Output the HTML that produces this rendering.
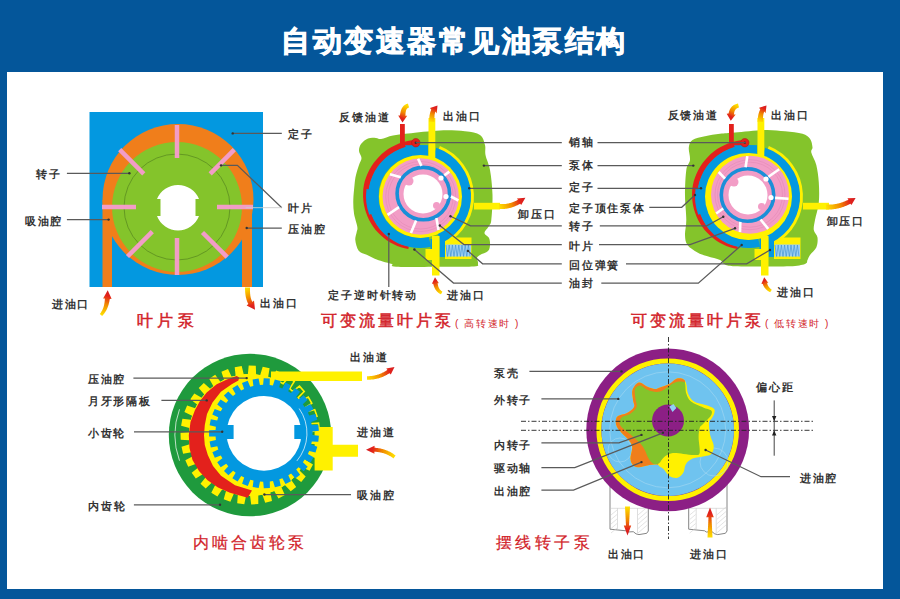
<!DOCTYPE html>
<html><head><meta charset="utf-8">
<style>
html,body{margin:0;padding:0;width:900px;height:599px;overflow:hidden;background:#04569a;}
svg{display:block;}
text{font-family:"Liberation Sans",sans-serif;}
.lb{font-size:11px;fill:#333;letter-spacing:1.9px;font-weight:bold;}
.cap{font-size:16px;fill:#d2232a;letter-spacing:3px;stroke:#d2232a;stroke-width:0.5;}
.caps{font-size:10px;fill:#d2232a;letter-spacing:1.6px;}
.cap2{font-size:16px;fill:#d2232a;letter-spacing:2.8px;stroke:#d2232a;stroke-width:0.25;}
.ln{stroke:#5a5a5a;stroke-width:1.25;fill:none;}
.dot{fill:#333;}
</style></head><body>
<svg width="900" height="599" viewBox="0 0 900 599">
<defs>
<linearGradient id="gU" x1="0" y1="1" x2="0" y2="0"><stop offset="0" stop-color="#ffe600"/><stop offset="0.5" stop-color="#f39200"/><stop offset="1" stop-color="#e3191b"/></linearGradient>
<linearGradient id="gD" x1="0" y1="0" x2="0" y2="1"><stop offset="0" stop-color="#ffe600"/><stop offset="0.5" stop-color="#f39200"/><stop offset="1" stop-color="#e3191b"/></linearGradient>
<linearGradient id="gR" x1="0" y1="0" x2="1" y2="0"><stop offset="0" stop-color="#ffe600"/><stop offset="0.5" stop-color="#f39200"/><stop offset="1" stop-color="#e3191b"/></linearGradient>
<linearGradient id="gL" x1="1" y1="0" x2="0" y2="0"><stop offset="0" stop-color="#ffe600"/><stop offset="0.5" stop-color="#f39200"/><stop offset="1" stop-color="#e3191b"/></linearGradient>
</defs>
<rect x="0" y="0" width="900" height="599" fill="#04569a"/>
<rect x="7" y="72" width="876" height="517" fill="#ffffff"/>
<text x="454.5" y="51" text-anchor="middle" style="font-size:29px;font-weight:bold;fill:#fff;letter-spacing:2.5px;stroke:#fff;stroke-width:0.9">自动变速器常见油泵结构</text>
<rect x="89.5" y="112" width="173.5" height="175" fill="#0398e0"/>
<circle cx="178" cy="199.5" r="75.5" fill="#f07e1b"/>
<rect x="102.5" y="200" width="9.5" height="87" fill="#f07e1b"/>
<rect x="242" y="200" width="10" height="87" fill="#f07e1b"/>
<circle cx="177" cy="207" r="65" fill="#84c42b"/>
<circle cx="177" cy="207" r="53" fill="none" stroke="#4d7a1c" stroke-width="0.6"/>
<path d="M178,185 A22.5,22.5 0 0 1 199,199 L195.5,199 L195.5,216 L199,216 A22.5,22.5 0 0 1 157,216 L160.5,216 L160.5,199 L157,199 A22.5,22.5 0 0 1 178,185 Z" fill="#fff"/>
<g stroke="#f29dc6" stroke-width="4.5"><line x1="177.0" y1="158.0" x2="177.0" y2="125.0"/><line x1="210.2" y1="173.8" x2="234.3" y2="149.7"/><line x1="217.0" y1="207.0" x2="253.0" y2="207.0"/><line x1="202.5" y1="232.5" x2="227.2" y2="257.2"/><line x1="177.0" y1="238.0" x2="177.0" y2="275.0"/><line x1="152.3" y1="231.7" x2="127.5" y2="256.5"/><line x1="136.0" y1="207.0" x2="102.0" y2="207.0"/><line x1="143.8" y1="173.8" x2="119.7" y2="149.7"/></g>
<path class="ln" d="M232.7,133.4 H281.8"/>
<circle class="dot" cx="232.7" cy="133.4" r="1.2"/>
<path class="ln" d="M221,165.4 H237.4 L281.8,207.7"/>
<circle class="dot" cx="221" cy="165.4" r="1.2"/>
<path d="M245.6,207.7 H281.8" stroke="#ccc" stroke-width="0.9"/>
<path class="ln" d="M246.7,228 H281.8"/>
<circle class="dot" cx="246.7" cy="228" r="1.2"/>
<path class="ln" d="M66.9,173.3 H129.4"/>
<circle class="dot" cx="129.4" cy="173.3" r="1.2"/>
<path class="ln" d="M66.9,219.6 H108.6"/>
<circle class="dot" cx="108.6" cy="219.6" r="1.2"/>
<text class="lb" x="287.8" y="137.9">定子</text>
<text class="lb" x="287.8" y="212.1">叶片</text>
<text class="lb" x="287.8" y="232.7">压油腔</text>
<text class="lb" x="36.0" y="177.7">转子</text>
<text class="lb" x="24.7" y="224.6">吸油腔</text>
<text class="lb" x="51.7" y="307.5">进油口</text>
<text class="lb" x="259.8" y="306.8">出油口</text>
<path d="M361.0,144.0 C362.5,141.9 365.5,139.5 368.0,138.5 C370.5,137.5 373.8,137.9 376.0,138.0 C378.2,138.1 378.2,139.4 381.0,139.0 C383.8,138.6 388.5,136.4 393.0,135.5 C397.5,134.6 400.2,134.3 408.0,133.5 C415.8,132.7 430.5,130.9 440.0,130.5 C449.5,130.1 458.3,130.6 465.0,131.3 C471.7,132.1 476.7,132.7 480.0,135.0 C483.3,137.3 484.1,141.7 485.0,145.0 C485.9,148.3 484.7,150.8 485.5,155.0 C486.3,159.2 488.8,163.3 490.0,170.0 C491.2,176.7 492.3,186.7 492.5,195.0 C492.7,203.3 491.9,214.8 491.3,220.0 C490.7,225.2 490.1,223.8 489.0,226.0 C487.9,228.2 484.5,231.0 484.5,233.0 C484.5,235.0 488.1,236.0 489.0,238.0 C489.9,240.0 490.2,242.8 490.0,245.0 C489.8,247.2 489.7,249.3 488.0,251.0 C486.3,252.7 481.8,253.8 480.0,255.0 C478.2,256.2 477.3,256.6 477.0,258.0 C476.7,259.4 478.5,262.1 478.0,263.5 C477.5,264.9 480.3,266.0 474.0,266.5 C467.7,267.0 453.0,266.6 440.0,266.7 C427.0,266.8 404.0,267.2 396.0,266.8 C388.0,266.4 394.2,264.9 392.0,264.0 C389.8,263.1 385.6,262.3 382.7,261.4 C379.8,260.5 377.4,259.8 374.7,258.7 C372.0,257.6 369.4,256.0 366.7,254.7 C364.0,253.4 360.6,253.1 358.7,250.7 C356.8,248.2 355.6,243.1 355.3,240.0 C355.0,236.9 356.4,234.2 356.7,232.0 C357.0,229.8 357.8,229.8 357.3,226.7 C356.9,223.6 354.7,217.8 354.0,213.4 C353.3,209.0 353.2,204.7 353.3,200.0 C353.4,195.3 354.1,189.2 354.5,185.0 C354.9,180.8 355.2,178.3 356.0,175.0 C356.8,171.7 358.1,167.8 359.0,165.0 C359.9,162.2 361.5,160.3 361.5,158.0 C361.5,155.7 359.1,153.3 359.0,151.0 C358.9,148.7 359.5,146.1 361.0,144.0 Z" fill="#84c42b"/>
<path d="M439.9,146.0 A54.5,54.5 0 0 1 445.1,244.6 L443.4,241.5 A51,51 0 0 0 438.6,149.2 Z" fill="#fff100"/>
<path d="M414.5,139.9 L410.5,140.4 L406.6,141.2 L402.7,142.2 L398.9,143.6 L395.2,145.2 L391.6,147.0 L388.1,149.1 L384.8,151.5 L381.7,154.1 L378.8,156.9 L376.1,159.9 L373.6,163.0 L371.3,166.4 L369.3,169.9 L367.6,173.5 L366.1,177.3 L364.8,181.1 L363.9,185.0 L363.3,189.0 L363.1,193.0 L363.1,197.1 L363.4,201.1 L364.0,205.0 L364.9,208.9 L366.1,212.7 L367.5,216.4 L369.1,220.0 L371.1,223.5 L373.2,226.8 L375.6,229.9 L378.2,232.8 L381.0,235.6 L383.9,238.1 L387.1,240.4 L390.3,242.5 L393.7,244.3 L397.3,245.9 L400.9,247.3 L404.6,248.3 L408.3,249.1 L408.9,246.4 L405.4,245.5 L401.9,244.4 L398.6,243.0 L395.3,241.4 L392.2,239.6 L389.2,237.5 L386.4,235.3 L383.7,232.8 L381.2,230.2 L378.9,227.4 L376.8,224.4 L374.9,221.3 L373.3,218.1 L371.9,214.7 L370.7,211.3 L369.8,207.8 L369.1,204.2 L368.7,200.6 L368.5,197.0 L368.6,193.4 L368.9,189.8 L369.6,186.2 L370.4,182.7 L371.5,179.2 L372.9,175.9 L374.4,172.6 L376.3,169.5 L378.3,166.5 L380.5,163.6 L383.0,160.9 L385.6,158.4 L388.4,156.1 L391.3,154.0 L394.4,152.1 L397.6,150.4 L401.0,149.0 L404.4,147.8 L407.9,146.8 L411.5,146.1 L415.1,145.7 Z" fill="#e3211c"/>
<rect x="400" y="124" width="4.8" height="22" fill="#e3211c"/>
<path d="M427.6,145.6 A51.5,51.5 0 1 0 431.1,246.7 L428.7,236.4 A41.0,41.0 0 1 1 425.9,156.0 Z" fill="#0398e0"/>
<path d="M366.5,189.1 A53.5,53.5 0 0 0 369.2,214.8 L381.0,210.5 A41.0,41.0 0 0 1 378.9,190.8 Z" fill="#0398e0"/>
<path d="M405,145.3 L428,145.3 L428,157 L410,157 Z" fill="#0398e0"/>
<path d="M436.3,147.8 A51.5,51.5 0 0 1 442.1,242.8 L437.5,233.4 A41.0,41.0 0 0 0 432.8,157.7 Z" fill="#0398e0"/>
<path d="M430.5,239 H436 V249 H430.5 Z" fill="#0398e0"/>
<path d="M439.5,237 L447,231 L449,236 L445,239 L445,257 L439.5,257 Z" fill="#0398e0"/>
<circle cx="420.5" cy="196.5" r="41.5" fill="#fff100"/>
<rect x="428.5" y="118" width="6.8" height="40" fill="#fff100"/>
<rect x="474" y="202.8" width="26" height="6.7" fill="#fff100"/>
<path d="M432,236 H439.5 V275.5 H432 V260 H425.5 V249 H432 Z" fill="#fff100"/>
<path d="M445,244 L451,237.5 H471.5 V259 H445 Z" fill="#fff100"/>
<rect x="446" y="244.5" width="25" height="12" fill="#9ed0f2"/>
<path d="M446.0,245 L447.6,256.5 L449.2,245 L450.8,256.5 L452.4,245 L454.0,256.5 L455.6,245 L457.2,256.5 L458.8,245 L460.4,256.5 L462.0,245 L463.6,256.5 L465.2,245 L466.8,256.5 L468.4,245 L470.0,256.5" stroke="#3a8fd0" stroke-width="0.6" fill="none"/>
<circle cx="420.7" cy="196.5" r="38.2" fill="#f29dc6"/>
<circle cx="420.7" cy="196.5" r="35" fill="none" stroke="#e58cb8" stroke-width="0.7"/>
<circle cx="420.7" cy="196.5" r="32.5" fill="none" stroke="#e58cb8" stroke-width="0.7"/>
<circle cx="423.3" cy="193.6" r="26.2" fill="none" stroke="#1a8fd8" stroke-width="3.6"/>
<circle cx="423" cy="194" r="19.5" fill="#fff"/>
<circle cx="441" cy="178" r="2.6" fill="#fff"/><circle cx="446" cy="196.5" r="2.6" fill="#fff"/>
<circle cx="409" cy="181" r="4.5" fill="#f29dc6"/><circle cx="436.5" cy="205.5" r="3.5" fill="#f29dc6"/>
<g stroke="#fff" stroke-width="2.6"><line x1="421.4" y1="165.9" x2="418.1" y2="158.7"/><line x1="444.3" y1="175.4" x2="449.3" y2="171.6"/><line x1="450.9" y1="196.5" x2="458.4" y2="200.5"/><line x1="436.4" y1="218.1" x2="438.5" y2="230.0"/><line x1="416.1" y1="220.5" x2="410.9" y2="233.1"/><line x1="399.0" y1="207.1" x2="387.6" y2="214.9"/><line x1="400.8" y1="177.3" x2="390.0" y2="174.2"/></g>
<circle cx="415.8" cy="142.7" r="4.2" fill="#e3211c" stroke="#b01818" stroke-width="0.6"/><circle cx="415.8" cy="142.7" r="1.2" fill="#333"/>
<path d="M692.5,140.0 C695.2,138.1 700.4,137.3 705.0,136.3 C709.6,135.3 715.0,134.4 720.0,133.8 C725.0,133.2 727.5,133.1 735.0,132.5 C742.5,131.9 756.7,130.2 765.0,130.0 C773.3,129.8 778.8,130.7 785.0,131.3 C791.2,131.9 798.3,132.6 802.5,133.8 C806.7,135.1 808.3,136.5 810.0,138.8 C811.7,141.1 812.3,145.2 812.5,147.5 C812.7,149.8 810.7,149.6 811.3,152.5 C811.9,155.4 815.0,160.0 816.3,165.0 C817.5,170.0 818.4,176.2 818.8,182.5 C819.2,188.8 819.4,196.2 818.8,202.5 C818.2,208.8 815.8,215.4 815.0,220.0 C814.2,224.6 813.4,227.1 813.8,230.0 C814.2,232.9 817.1,234.6 817.5,237.5 C817.9,240.4 817.5,244.6 816.3,247.5 C815.0,250.4 811.5,252.9 810.0,255.0 C808.5,257.1 808.3,258.5 807.5,260.0 C806.7,261.5 807.9,262.9 805.0,264.0 C802.1,265.1 797.5,265.9 790.0,266.3 C782.5,266.7 769.2,266.5 760.0,266.5 C750.8,266.5 740.8,266.6 735.0,266.3 C729.2,266.0 727.5,265.6 725.0,264.5 C722.5,263.4 722.9,261.4 720.0,260.0 C717.1,258.6 711.2,257.6 707.5,256.3 C703.8,255.1 700.8,254.4 697.5,252.5 C694.2,250.6 689.6,247.9 687.5,245.0 C685.4,242.1 685.2,239.2 685.0,235.0 C684.8,230.8 686.3,226.7 686.3,220.0 C686.3,213.3 685.0,203.3 685.0,195.0 C685.0,186.7 685.5,175.8 686.3,170.0 C687.1,164.2 689.6,163.8 690.0,160.0 C690.4,156.2 688.4,150.8 688.8,147.5 C689.2,144.2 689.8,141.9 692.5,140.0 Z" fill="#84c42b"/>
<path d="M768.9,146.0 A54.5,54.5 0 0 1 774.1,244.6 L772.4,241.5 A51,51 0 0 0 767.6,149.2 Z" fill="#fff100"/>
<path d="M743.5,139.9 L739.5,140.4 L735.6,141.2 L731.7,142.2 L727.9,143.6 L724.2,145.2 L720.6,147.0 L717.1,149.1 L713.8,151.5 L710.7,154.1 L707.8,156.9 L705.1,159.9 L702.6,163.0 L700.3,166.4 L698.3,169.9 L696.6,173.5 L695.1,177.3 L693.8,181.1 L692.9,185.0 L692.3,189.0 L692.1,193.0 L692.1,197.1 L692.4,201.1 L693.0,205.0 L693.9,208.9 L695.1,212.7 L696.5,216.4 L698.1,220.0 L700.1,223.5 L702.2,226.8 L704.6,229.9 L707.2,232.8 L710.0,235.6 L712.9,238.1 L716.1,240.4 L719.3,242.5 L722.7,244.3 L726.3,245.9 L729.9,247.3 L733.6,248.3 L737.3,249.1 L737.9,246.4 L734.4,245.5 L730.9,244.4 L727.6,243.0 L724.3,241.4 L721.2,239.6 L718.2,237.5 L715.4,235.3 L712.7,232.8 L710.2,230.2 L707.9,227.4 L705.8,224.4 L703.9,221.3 L702.3,218.1 L700.9,214.7 L699.7,211.3 L698.8,207.8 L698.1,204.2 L697.7,200.6 L697.5,197.0 L697.6,193.4 L697.9,189.8 L698.6,186.2 L699.4,182.7 L700.5,179.2 L701.9,175.9 L703.4,172.6 L705.3,169.5 L707.3,166.5 L709.5,163.6 L712.0,160.9 L714.6,158.4 L717.4,156.1 L720.3,154.0 L723.4,152.1 L726.6,150.4 L730.0,149.0 L733.4,147.8 L736.9,146.8 L740.5,146.1 L744.1,145.7 Z" fill="#e3211c"/>
<rect x="729" y="124" width="4.8" height="22" fill="#e3211c"/>
<path d="M756.6,145.6 A51.5,51.5 0 1 0 760.1,246.7 L758.2,238.4 A43.0,43.0 0 1 1 755.2,154.0 Z" fill="#0398e0"/>
<path d="M695.5,189.1 A53.5,53.5 0 0 0 698.2,214.8 L708.1,211.2 A43.0,43.0 0 0 1 705.9,190.5 Z" fill="#0398e0"/>
<path d="M734,145.3 L757,145.3 L757,157 L739,157 Z" fill="#0398e0"/>
<path d="M765.3,147.8 A51.5,51.5 0 0 1 771.1,242.8 L767.3,235.1 A43.0,43.0 0 0 0 762.5,155.8 Z" fill="#0398e0"/>
<path d="M759.5,239 H765 V249 H759.5 Z" fill="#0398e0"/>
<path d="M768.5,237 L776,231 L778,236 L774,239 L774,257 L768.5,257 Z" fill="#0398e0"/>
<circle cx="748.5" cy="196.5" r="43.5" fill="#fff100"/>
<rect x="757.5" y="118" width="6.8" height="40" fill="#fff100"/>
<rect x="803" y="202.8" width="26" height="6.7" fill="#fff100"/>
<path d="M761,236 H768.5 V275.5 H761 V260 H754.5 V249 H761 Z" fill="#fff100"/>
<path d="M774,244 L780,237.5 H800.5 V259 H774 Z" fill="#fff100"/>
<rect x="775" y="244.5" width="25" height="12" fill="#9ed0f2"/>
<path d="M775.0,245 L776.6,256.5 L778.2,245 L779.8,256.5 L781.4,245 L783.0,256.5 L784.6,245 L786.2,256.5 L787.8,245 L789.4,256.5 L791.0,245 L792.6,256.5 L794.2,245 L795.8,256.5 L797.4,245 L799.0,256.5" stroke="#3a8fd0" stroke-width="0.6" fill="none"/>
<circle cx="750.0" cy="194.7" r="39" fill="#f29dc6"/>
<circle cx="750.0" cy="194.7" r="35" fill="none" stroke="#e58cb8" stroke-width="0.7"/>
<circle cx="750.0" cy="194.7" r="32.5" fill="none" stroke="#e58cb8" stroke-width="0.7"/>
<circle cx="747.5" cy="195" r="26.2" fill="none" stroke="#1a8fd8" stroke-width="3.6"/>
<circle cx="748" cy="195" r="19.5" fill="#fff"/>
<circle cx="766" cy="179" r="2.6" fill="#fff"/><circle cx="771" cy="197.5" r="2.6" fill="#fff"/>
<circle cx="734" cy="182" r="4.5" fill="#f29dc6"/><circle cx="761.5" cy="206.5" r="3.5" fill="#f29dc6"/>
<g stroke="#fff" stroke-width="2.6"><line x1="745.6" y1="167.3" x2="747.3" y2="156.1"/><line x1="768.5" y1="176.8" x2="779.2" y2="169.3"/><line x1="775.1" y1="197.9" x2="788.5" y2="198.7"/><line x1="760.6" y1="219.5" x2="768.2" y2="228.9"/><line x1="740.3" y1="221.9" x2="740.0" y2="232.1"/><line x1="723.2" y1="208.5" x2="716.2" y2="213.5"/><line x1="725.0" y1="178.7" x2="718.7" y2="172.0"/></g>
<circle cx="744.8" cy="142.7" r="4.2" fill="#e3211c" stroke="#b01818" stroke-width="0.6"/><circle cx="744.8" cy="142.7" r="1.2" fill="#333"/>
<text class="lb" x="339.0" y="120.6">反馈油道</text>
<text class="lb" x="443.3" y="120.3">出油口</text>
<text class="lb" x="518.4" y="218.0">卸压口</text>
<text class="lb" x="447.0" y="299.3">进油口</text>
<text class="lb" x="328.0" y="299.3">定子逆时针转动</text>
<text class="lb" x="667.6" y="119.2">反馈油道</text>
<text class="lb" x="771.0" y="119.3">出油口</text>
<text class="lb" x="826.6" y="225.3">卸压口</text>
<text class="lb" x="777.2" y="295.7">进油口</text>
<text class="lb" x="568.8" y="145.8">销轴</text>
<text class="lb" x="568.8" y="169.1">泵体</text>
<text class="lb" x="568.8" y="190.9">定子</text>
<text class="lb" x="568.8" y="211.9">定子顶住泵体</text>
<text class="lb" x="568.8" y="230.3">转子</text>
<text class="lb" x="568.8" y="249.8">叶片</text>
<text class="lb" x="568.8" y="268.6">回位弹簧</text>
<text class="lb" x="568.8" y="286.6">油封</text>
<path class="ln" d="M415.8,142.5 H561.8"/>
<path class="ln" d="M483.9,165.6 H561.8"/>
<circle class="dot" cx="483.9" cy="165.6" r="1.2"/>
<path class="ln" d="M469.2,188.3 H561.8"/>
<circle class="dot" cx="469.2" cy="188.3" r="1.2"/>
<path class="ln" d="M450.5,216.2 L470.5,225.8 H561.8"/>
<circle class="dot" cx="450.5" cy="216.2" r="1.2"/>
<path class="ln" d="M439.8,225.5 L463.9,244.5 H561.8"/>
<circle class="dot" cx="439.8" cy="225.5" r="1.2"/>
<path class="ln" d="M467.9,250.9 L482.6,263.8 H561.8"/>
<circle class="dot" cx="467.9" cy="250.9" r="1.2"/>
<path class="ln" d="M414.4,249.5 L453.5,283 H561.8"/>
<circle class="dot" cx="414.4" cy="249.5" r="1.2"/>
<path class="ln" d="M388.8,234 V287"/>
<circle class="dot" cx="388.8" cy="234" r="1.2"/>
<path class="ln" d="M597.5,142.5 H745.8"/>
<path class="ln" d="M597.5,165.6 H693.3"/>
<circle class="dot" cx="693.3" cy="165.6" r="1.2"/>
<path class="ln" d="M597.5,188.3 H701"/>
<circle class="dot" cx="701" cy="188.3" r="1.2"/>
<path class="ln" d="M649.3,207.3 H681.7 L695,195"/>
<circle class="dot" cx="695" cy="195" r="1.2"/>
<path class="ln" d="M599.8,225.8 H706.7 L723.3,216.7"/>
<circle class="dot" cx="723.3" cy="216.7" r="1.2"/>
<path class="ln" d="M599,244.5 H690 L735,228.3"/>
<circle class="dot" cx="735" cy="228.3" r="1.2"/>
<path class="ln" d="M626,263.8 H746.7 L770,250"/>
<circle class="dot" cx="770" cy="250" r="1.2"/>
<path class="ln" d="M601.3,283.1 H698.3 L741.7,245"/>
<circle class="dot" cx="741.7" cy="245" r="1.2"/>
<circle cx="250" cy="435" r="81.2" fill="#1f9a3d"/>
<clipPath id="cpG"><path d="M250,435 L330,442 L340,435 L345,340 L150,340 L150,540 L350,540 L350,442 Z M250,435 L340,437 L340,360 L290,360 Z" clip-rule="evenodd"/></clipPath>
<g clip-path="url(#cpG)"><path d="M310.9,431.8 L319.3,430.2 L318.5,423.2 L309.9,423.7 L309.0,419.6 L317.0,416.4 L314.7,409.6 L306.4,411.8 L304.7,408.0 L311.8,403.3 L308.3,397.1 L300.6,400.9 L298.2,397.6 L304.2,391.5 L299.5,386.2 L292.7,391.5 L289.7,388.6 L294.3,381.5 L288.6,377.2 L283.1,383.7 L279.5,381.6 L282.6,373.6 L276.2,370.6 L272.1,378.1 L268.2,376.8 L269.6,368.3 L262.7,366.7 L260.2,374.9 L256.1,374.3 L255.8,365.7 L248.7,365.5 L247.9,374.0 L243.7,374.3 L241.7,366.0 L234.7,367.2 L235.6,375.7 L231.6,376.8 L228.0,369.1 L221.4,371.7 L224.0,379.8 L220.3,381.7 L215.2,374.8 L209.2,378.7 L213.4,386.2 L210.2,388.8 L203.8,383.1 L198.7,388.1 L204.3,394.5 L201.7,397.7 L194.3,393.4 L190.3,399.3 L197.1,404.6 L195.2,408.2 L187.1,405.5 L184.4,412.1 L192.1,415.8 L190.9,419.8 L182.4,418.8 L181.1,425.8 L189.4,427.9 L189.1,432.0 L180.5,432.7 L180.7,439.8 L189.2,440.2 L189.7,444.3 L181.5,446.8 L183.1,453.7 L191.5,452.3 L192.8,456.3 L185.3,460.3 L188.2,466.8 L196.2,463.8 L198.3,467.4 L191.7,472.8 L195.8,478.6 L203.1,474.0 L205.9,477.1 L200.5,483.8 L205.7,488.6 L211.9,482.6 L215.2,485.1 L211.3,492.7 L217.4,496.4 L222.3,489.3 L226.0,491.1 L223.7,499.3 L230.4,501.7 L233.8,493.8 L237.8,494.8 L237.2,503.3 L244.3,504.3 L246.0,495.9 L250.1,496.0 L251.2,504.5 L258.3,504.0 L258.3,495.4 L262.4,494.7 L265.2,502.8 L272.0,500.9 L270.3,492.5 L274.2,491.0 L278.5,498.4 L284.9,495.1 L281.4,487.3 L284.9,485.0 L290.7,491.3 L296.2,486.9 L291.3,479.9 L294.3,477.0 L301.2,482.0 L305.7,476.5 L299.5,470.6 L301.8,467.2 L309.6,470.7 L313.0,464.4 L305.7,459.9 L307.2,456.1 L315.6,458.0 L317.6,451.2 L309.6,448.2 L310.3,444.1 L318.9,444.3 L319.5,437.2 L311.0,436.0 Z" fill="#fff100"/>
<circle cx="250" cy="435" r="61" fill="#fff100"/></g>
<rect x="271" y="371.5" width="91" height="9.5" fill="#fff100"/>
<path d="M314.6,427 H332.7 V444.7 H358 V456.7 H332.7 V470.6 H314.6 Z" fill="#fff100"/>
<clipPath id="cpM"><path d="M250,435 L340,437 L340,360 L290,360 Z"/></clipPath>
<path d="M310.9,431.8 L319.3,430.2 L318.5,423.2 L309.9,423.7 L309.0,419.6 L317.0,416.4 L314.7,409.6 L306.4,411.8 L304.7,408.0 L311.8,403.3 L308.3,397.1 L300.6,400.9 L298.2,397.6 L304.2,391.5 L299.5,386.2 L292.7,391.5 L289.7,388.6 L294.3,381.5 L288.6,377.2 L283.1,383.7 L279.5,381.6 L282.6,373.6 L276.2,370.6 L272.1,378.1 L268.2,376.8 L269.6,368.3 L262.7,366.7 L260.2,374.9 L256.1,374.3 L255.8,365.7 L248.7,365.5 L247.9,374.0 L243.7,374.3 L241.7,366.0 L234.7,367.2 L235.6,375.7 L231.6,376.8 L228.0,369.1 L221.4,371.7 L224.0,379.8 L220.3,381.7 L215.2,374.8 L209.2,378.7 L213.4,386.2 L210.2,388.8 L203.8,383.1 L198.7,388.1 L204.3,394.5 L201.7,397.7 L194.3,393.4 L190.3,399.3 L197.1,404.6 L195.2,408.2 L187.1,405.5 L184.4,412.1 L192.1,415.8 L190.9,419.8 L182.4,418.8 L181.1,425.8 L189.4,427.9 L189.1,432.0 L180.5,432.7 L180.7,439.8 L189.2,440.2 L189.7,444.3 L181.5,446.8 L183.1,453.7 L191.5,452.3 L192.8,456.3 L185.3,460.3 L188.2,466.8 L196.2,463.8 L198.3,467.4 L191.7,472.8 L195.8,478.6 L203.1,474.0 L205.9,477.1 L200.5,483.8 L205.7,488.6 L211.9,482.6 L215.2,485.1 L211.3,492.7 L217.4,496.4 L222.3,489.3 L226.0,491.1 L223.7,499.3 L230.4,501.7 L233.8,493.8 L237.8,494.8 L237.2,503.3 L244.3,504.3 L246.0,495.9 L250.1,496.0 L251.2,504.5 L258.3,504.0 L258.3,495.4 L262.4,494.7 L265.2,502.8 L272.0,500.9 L270.3,492.5 L274.2,491.0 L278.5,498.4 L284.9,495.1 L281.4,487.3 L284.9,485.0 L290.7,491.3 L296.2,486.9 L291.3,479.9 L294.3,477.0 L301.2,482.0 L305.7,476.5 L299.5,470.6 L301.8,467.2 L309.6,470.7 L313.0,464.4 L305.7,459.9 L307.2,456.1 L315.6,458.0 L317.6,451.2 L309.6,448.2 L310.3,444.1 L318.9,444.3 L319.5,437.2 L311.0,436.0 Z" fill="none" stroke="#fff100" stroke-width="1.6" clip-path="url(#cpM)"/>
<path d="M239.2,377.5 L236.7,375.9 L227.5,379.2 L216.7,384.2 L206.7,392.5 L200.0,400.9 L195.0,410.0 L190.5,422.0 L188.8,435.2 L189.5,448.0 L192.5,460.0 L199.0,471.0 L207.6,480.3 L218.0,487.5 L230.0,492.8 L247.7,497.8 L252.0,490.5 L235.0,485.3 L221.0,475.8 L213.0,466.0 L207.8,455.0 L204.8,445.0 L204.0,435.2 L204.8,425.0 L207.0,414.0 L212.5,402.6 L220.9,391.7 L231.7,384.2 L238.4,380.4 Z" fill="#e3211c"/>
<path d="M312.5,431.6 L318.9,430.7 L318.3,424.7 L311.8,425.1 L311.1,421.9 L317.3,419.7 L315.5,413.9 L309.2,415.6 L307.9,412.6 L313.5,409.3 L310.5,403.9 L304.7,406.9 L302.8,404.2 L307.6,399.8 L303.6,395.2 L298.6,399.3 L296.2,397.0 L300.0,391.7 L295.2,388.0 L291.0,393.0 L288.2,391.3 L290.9,385.3 L285.4,382.6 L282.3,388.4 L279.2,387.3 L280.7,380.9 L274.8,379.4 L272.9,385.6 L269.7,385.1 L269.8,378.6 L263.7,378.3 L263.1,384.8 L259.9,385.0 L258.6,378.6 L252.6,379.5 L253.4,386.0 L250.2,386.8 L247.7,380.8 L242.0,382.9 L244.1,389.1 L241.1,390.5 L237.5,385.1 L232.3,388.3 L235.6,394.0 L233.0,396.0 L228.3,391.4 L223.9,395.6 L228.3,400.5 L226.1,403.0 L220.6,399.5 L217.2,404.5 L222.4,408.4 L220.8,411.3 L214.7,408.9 L212.3,414.5 L218.2,417.3 L217.2,420.4 L210.8,419.3 L209.6,425.3 L215.9,426.8 L215.6,430.1 L209.1,430.3 L209.1,436.4 L215.6,436.6 L215.9,439.9 L209.6,441.4 L210.8,447.4 L217.3,446.3 L218.3,449.4 L212.4,452.2 L214.8,457.8 L220.8,455.4 L222.4,458.3 L217.2,462.2 L220.7,467.2 L226.2,463.7 L228.3,466.2 L224.0,471.0 L228.4,475.2 L233.1,470.7 L235.7,472.7 L232.4,478.3 L237.6,481.5 L241.2,476.1 L244.2,477.6 L242.1,483.8 L247.8,485.9 L250.3,479.8 L253.5,480.6 L252.7,487.1 L258.7,488.0 L260.0,481.6 L263.2,481.8 L263.8,488.3 L269.9,488.0 L269.8,481.5 L273.0,481.0 L274.9,487.2 L280.8,485.7 L279.3,479.3 L282.4,478.2 L285.5,483.9 L291.0,481.2 L288.3,475.3 L291.1,473.5 L295.3,478.6 L300.1,474.8 L296.2,469.5 L298.6,467.3 L303.7,471.3 L307.7,466.7 L302.9,462.3 L304.7,459.6 L310.6,462.6 L313.5,457.2 L307.9,453.9 L309.2,450.9 L315.5,452.6 L317.3,446.8 L311.2,444.6 L311.8,441.4 L318.3,441.8 L318.9,435.8 L312.5,434.9 Z" fill="#0398e0"/>
<circle cx="264" cy="433.3" r="37.4" fill="#fff"/>
<rect x="225" y="425" width="8.6" height="14" fill="#0398e0"/><rect x="294.3" y="425" width="8.6" height="14" fill="#0398e0"/>
<path d="M299.2,408.6 A43,43 0 0 1 296.9,460.9" fill="none" stroke="#fff" stroke-width="0.7"/>
<path d="M179.5,409.3 A75,75 0 0 0 179.5,460.7" fill="none" stroke="#fff" stroke-width="0.7"/>
<text class="lb" x="87.7" y="383.0">压油腔</text>
<text class="lb" x="87.7" y="405.0">月牙形隔板</text>
<text class="lb" x="87.7" y="437.1">小齿轮</text>
<text class="lb" x="88.2" y="510.3">内齿轮</text>
<text class="lb" x="350.0" y="360.6">出油道</text>
<text class="lb" x="357.1" y="436.3">进油道</text>
<text class="lb" x="357.1" y="498.6">吸油腔</text>
<path class="ln" d="M133.4,378.1 H246.7"/>
<circle class="dot" cx="246.7" cy="378.1" r="1.2"/>
<path class="ln" d="M161.4,400.4 H206.7"/>
<circle class="dot" cx="206.7" cy="400.4" r="1.2"/>
<path class="ln" d="M134,431.8 H222.2"/>
<circle class="dot" cx="222.2" cy="431.8" r="1.2"/>
<path class="ln" d="M133.9,504.8 H220"/>
<circle class="dot" cx="220" cy="504.8" r="1.2"/>
<path class="ln" d="M264.4,494.5 H351"/>
<circle class="dot" cx="264.4" cy="494.5" r="1.2"/>
<path d="M610,470 V529.2 L626,530.8 L627.5,532 L633.3,531.7 Q636,534.6 639,534.6 L646.7,533.3 L648.3,531 V470" fill="#fff" stroke="#777" stroke-width="0.9"/>
<path d="M610.5,508.3 H647.8 M617.5,508.3 V530 M637.5,508.3 V533" stroke="#c8c8c8" stroke-width="0.6" fill="none"/>
<path d="M611,515.0 L617,510.0 M638,515.0 L647.3,507.0 M611,519.5 L617,514.5 M638,519.5 L647.3,511.5 M611,524.0 L617,519.0 M638,524.0 L647.3,516.0 M611,528.5 L617,523.5 M638,528.5 L647.3,520.5 M611,533.0 L617,528.0 M638,533.0 L647.3,525.0" stroke="#d0d0d0" stroke-width="0.6" fill="none"/>
<path d="M688.7,470 V529.2 L704.7,530.8 L706.2,532 L712.0,531.7 Q714.7,534.6 717.7,534.6 L725.4000000000001,533.3 L727.0,531 V470" fill="#fff" stroke="#777" stroke-width="0.9"/>
<path d="M689.2,508.3 H726.5 M696.2,508.3 V530 M716.2,508.3 V533" stroke="#c8c8c8" stroke-width="0.6" fill="none"/>
<path d="M689.7,515.0 L695.7,510.0 M716.7,515.0 L726.0,507.0 M689.7,519.5 L695.7,514.5 M716.7,519.5 L726.0,511.5 M689.7,524.0 L695.7,519.0 M716.7,524.0 L726.0,516.0 M689.7,528.5 L695.7,523.5 M716.7,528.5 L726.0,520.5 M689.7,533.0 L695.7,528.0 M716.7,533.0 L726.0,525.0" stroke="#d0d0d0" stroke-width="0.6" fill="none"/>
<circle cx="667.7" cy="429.8" r="81.4" fill="#8c1f85"/>
<circle cx="667.7" cy="429.8" r="68.8" fill="none" stroke="#fff100" stroke-width="5"/>
<circle cx="667.7" cy="429.8" r="66.3" fill="#6fc3ef"/>
<g fill="none" stroke="#a6d8f2" stroke-width="0.6"><circle cx="667.7" cy="429.8" r="58"/><circle cx="714" cy="462" r="14"/><circle cx="620" cy="450" r="12"/></g>
<clipPath id="cpL"><path d="M560,330 H685 V390 L656,470 V560 H560 Z"/></clipPath>
<path d="M655.0,389.0 C657.0,389.1 657.6,388.3 660.0,387.5 C662.4,386.7 666.6,385.4 669.3,384.0 C672.0,382.6 674.0,379.6 676.4,378.8 C678.8,378.0 681.8,378.4 683.4,379.3 C685.0,380.2 685.5,381.6 686.3,384.0 C687.1,386.4 686.7,390.5 688.0,393.4 C689.3,396.3 691.1,399.6 694.0,401.5 C696.9,403.4 702.3,403.8 705.6,405.0 C708.9,406.2 712.2,407.1 713.7,408.5 C715.2,409.9 714.7,411.4 714.3,413.2 C713.9,414.9 712.3,417.5 711.4,419.0 C710.5,420.5 709.2,419.6 709.0,422.3 C708.8,425.0 709.4,431.3 710.2,435.2 C711.0,439.1 713.5,442.6 713.7,445.7 C713.9,448.8 713.0,452.1 711.4,453.9 C709.8,455.6 707.5,455.4 704.4,456.2 C701.3,457.0 695.8,457.2 692.7,458.6 C689.6,460.0 687.2,462.1 685.7,464.4 C684.2,466.7 684.8,470.4 683.4,472.6 C682.0,474.8 679.9,477.2 677.5,477.8 C675.1,478.4 671.6,477.5 669.3,476.0 C667.0,474.5 665.0,470.6 663.5,469.0 C662.0,467.4 661.1,467.5 660.0,466.7 C658.9,465.9 658.8,464.6 656.7,464.4 C654.6,464.2 650.3,465.1 647.4,465.6 C644.5,466.1 641.5,467.3 639.2,467.3 C636.9,467.3 634.9,467.1 633.4,465.6 C631.9,464.2 630.6,461.7 630.4,458.6 C630.2,455.5 632.5,450.0 632.2,446.9 C631.9,443.8 630.5,442.2 628.7,439.9 C627.0,437.6 623.7,435.0 621.7,432.9 C619.8,430.8 618.0,429.0 617.0,427.0 C616.0,425.0 615.6,422.8 615.8,421.0 C616.0,419.2 616.1,417.3 618.0,416.0 C619.9,414.7 624.3,414.5 627.0,413.0 C629.7,411.5 633.0,409.2 634.0,407.0 C635.0,404.8 633.2,402.8 633.0,400.0 C632.8,397.2 631.5,392.9 632.5,390.0 C633.5,387.1 636.4,383.0 639.0,382.5 C641.6,382.0 645.3,385.9 648.0,387.0 C650.7,388.1 653.0,388.9 655.0,389.0 Z" fill="#fff100"/>
<path d="M655.0,389.0 C657.0,389.1 657.6,388.3 660.0,387.5 C662.4,386.7 666.6,385.4 669.3,384.0 C672.0,382.6 674.0,379.6 676.4,378.8 C678.8,378.0 681.8,378.4 683.4,379.3 C685.0,380.2 685.5,381.6 686.3,384.0 C687.1,386.4 686.7,390.5 688.0,393.4 C689.3,396.3 691.1,399.6 694.0,401.5 C696.9,403.4 702.3,403.8 705.6,405.0 C708.9,406.2 712.2,407.1 713.7,408.5 C715.2,409.9 714.7,411.4 714.3,413.2 C713.9,414.9 712.3,417.5 711.4,419.0 C710.5,420.5 709.2,419.6 709.0,422.3 C708.8,425.0 709.4,431.3 710.2,435.2 C711.0,439.1 713.5,442.6 713.7,445.7 C713.9,448.8 713.0,452.1 711.4,453.9 C709.8,455.6 707.5,455.4 704.4,456.2 C701.3,457.0 695.8,457.2 692.7,458.6 C689.6,460.0 687.2,462.1 685.7,464.4 C684.2,466.7 684.8,470.4 683.4,472.6 C682.0,474.8 679.9,477.2 677.5,477.8 C675.1,478.4 671.6,477.5 669.3,476.0 C667.0,474.5 665.0,470.6 663.5,469.0 C662.0,467.4 661.1,467.5 660.0,466.7 C658.9,465.9 658.8,464.6 656.7,464.4 C654.6,464.2 650.3,465.1 647.4,465.6 C644.5,466.1 641.5,467.3 639.2,467.3 C636.9,467.3 634.9,467.1 633.4,465.6 C631.9,464.2 630.6,461.7 630.4,458.6 C630.2,455.5 632.5,450.0 632.2,446.9 C631.9,443.8 630.5,442.2 628.7,439.9 C627.0,437.6 623.7,435.0 621.7,432.9 C619.8,430.8 618.0,429.0 617.0,427.0 C616.0,425.0 615.6,422.8 615.8,421.0 C616.0,419.2 616.1,417.3 618.0,416.0 C619.9,414.7 624.3,414.5 627.0,413.0 C629.7,411.5 633.0,409.2 634.0,407.0 C635.0,404.8 633.2,402.8 633.0,400.0 C632.8,397.2 631.5,392.9 632.5,390.0 C633.5,387.1 636.4,383.0 639.0,382.5 C641.6,382.0 645.3,385.9 648.0,387.0 C650.7,388.1 653.0,388.9 655.0,389.0 Z" fill="#f07e1b" clip-path="url(#cpL)"/>
<path d="M660.0,391.6 C664.3,390.4 670.2,384.5 674.0,382.9 C677.8,381.2 680.9,381.6 682.8,381.7 C684.6,381.8 684.5,381.4 685.1,383.4 C685.7,385.3 685.3,390.4 686.3,393.4 C687.3,396.4 688.2,399.2 691.0,401.5 C693.8,403.8 699.9,405.9 703.2,407.4 C706.5,408.9 709.6,409.1 711.0,410.3 C712.4,411.5 712.0,412.9 711.5,414.4 C711.0,415.8 709.6,417.2 708.0,419.0 C706.4,420.8 703.4,423.5 702.0,425.0 C700.6,426.5 700.3,425.9 699.7,428.0 C699.1,430.1 698.6,433.4 698.6,437.5 C698.6,441.6 700.3,449.8 699.7,452.7 C699.1,455.6 697.7,454.8 695.0,455.0 C692.3,455.2 687.3,454.2 683.4,453.9 C679.5,453.6 675.0,452.7 671.7,453.3 C668.4,453.9 665.8,455.8 663.7,457.4 C661.6,459.0 660.8,462.1 659.0,463.2 C657.2,464.3 654.9,464.6 653.2,463.8 C651.5,463.0 650.0,460.8 648.6,458.6 C647.2,456.4 646.4,452.9 645.0,450.4 C643.6,447.9 642.9,446.1 640.4,443.4 C637.9,440.7 632.9,436.6 629.9,434.0 C626.9,431.4 624.2,429.8 622.5,428.0 C620.8,426.2 619.6,424.8 619.5,423.0 C619.4,421.2 620.2,418.5 622.0,417.0 C623.8,415.5 627.6,415.7 630.0,414.0 C632.4,412.3 635.6,409.5 636.5,407.0 C637.4,404.5 635.8,402.0 635.5,399.0 C635.2,396.0 634.2,391.2 635.0,389.0 C635.8,386.8 638.3,385.3 640.5,385.5 C642.7,385.7 644.8,389.0 648.0,390.0 C651.2,391.0 655.7,392.8 660.0,391.6 Z" fill="#84c42b"/>
<circle cx="668" cy="420.5" r="16" fill="#8c1f85"/>
<path d="M669.3,406.5 L673.5,403.9 L676.4,408 L672.5,412 Z" fill="#8fd0f5"/>
<g stroke="#222" stroke-width="0.9" stroke-dasharray="5,2,1.5,2" fill="none"><path d="M668.5,337 V539"/><path d="M521,421.3 H813.8"/><path d="M521,430.3 H813.8"/></g>
<path d="M774.2,400.4 V455.7" stroke="#444" stroke-width="1"/>
<path d="M772,416 L774.2,421.3 L776.4,416 Z M772,435.5 L774.2,430.3 L776.4,435.5 Z" fill="#222"/>
<text class="lb" x="493.7" y="376.5">泵壳</text>
<text class="lb" x="493.7" y="403.5">外转子</text>
<text class="lb" x="493.7" y="448.9">内转子</text>
<text class="lb" x="493.7" y="471.6">驱动轴</text>
<text class="lb" x="493.7" y="494.8">出油腔</text>
<text class="lb" x="756.4" y="391.0">偏心距</text>
<text class="lb" x="799.7" y="482.1">进油腔</text>
<text class="lb" x="607.7" y="557.7">出油口</text>
<text class="lb" x="690.3" y="557.7">进油口</text>
<path class="ln" d="M529.4,371.4 H621.5"/>
<circle class="dot" cx="621.5" cy="371.4" r="1.2"/>
<path class="ln" d="M541.4,398.9 H618.3"/>
<circle class="dot" cx="618.3" cy="398.9" r="1.2"/>
<path class="ln" d="M541.4,442.9 H618.9 L641.5,434.9"/>
<circle class="dot" cx="641.5" cy="434.9" r="1.2"/>
<path class="ln" d="M541.4,467.5 H574.8 L662.9,432.8"/>
<circle class="dot" cx="662.9" cy="432.8" r="1.2"/>
<path class="ln" d="M541.4,490.2 H573.5 L641.5,462.1"/>
<circle class="dot" cx="641.5" cy="462.1" r="1.2"/>
<path class="ln" d="M790,476.7 H761 L705.6,450"/>
<circle class="dot" cx="705.6" cy="450" r="1.2"/>
<linearGradient id="ar1" gradientUnits="userSpaceOnUse" x1="101.0" y1="315.0" x2="107.7" y2="290.3"><stop offset="0" stop-color="#ffe100"/><stop offset="0.45" stop-color="#f18a00"/><stop offset="0.78" stop-color="#e3231b"/><stop offset="1" stop-color="#d41d21"/></linearGradient><path d="M102.2,315.9 L102.4,315.7 L102.6,315.4 L102.9,315.1 L103.1,314.9 L103.4,314.6 L103.6,314.3 L103.8,314.0 L104.0,313.7 L104.3,313.4 L104.5,313.1 L104.7,312.8 L104.9,312.5 L105.1,312.2 L105.3,311.9 L105.5,311.6 L105.7,311.3 L105.9,311.0 L106.1,310.7 L106.3,310.3 L106.4,310.0 L106.6,309.7 L106.8,309.3 L107.0,309.0 L107.1,308.6 L107.3,308.2 L107.4,307.9 L107.6,307.5 L107.7,307.1 L107.9,306.7 L108.0,306.3 L108.2,305.9 L108.3,305.5 L108.4,305.1 L108.6,304.7 L108.7,304.2 L108.8,303.8 L108.9,303.3 L109.0,302.9 L109.1,302.4 L109.2,302.0 L109.4,301.5 L109.4,301.0 L109.5,300.5 L109.6,300.0 L109.7,299.4 L109.8,298.9 L111.6,298.8 L107.7,290.3 L103.1,298.5 L104.9,298.4 L104.9,298.9 L104.8,299.4 L104.8,299.8 L104.8,300.3 L104.7,300.7 L104.7,301.2 L104.6,301.6 L104.6,302.0 L104.5,302.5 L104.5,302.9 L104.4,303.3 L104.3,303.6 L104.3,304.0 L104.2,304.4 L104.1,304.8 L104.0,305.1 L104.0,305.5 L103.9,305.8 L103.8,306.2 L103.7,306.5 L103.6,306.8 L103.5,307.1 L103.4,307.5 L103.3,307.8 L103.2,308.1 L103.0,308.4 L102.9,308.7 L102.8,309.0 L102.7,309.3 L102.5,309.6 L102.4,309.9 L102.3,310.2 L102.1,310.4 L102.0,310.7 L101.8,311.0 L101.6,311.3 L101.5,311.6 L101.3,311.8 L101.2,312.1 L101.0,312.4 L100.8,312.7 L100.6,312.9 L100.4,313.2 L100.2,313.5 L100.0,313.8 L99.8,314.1 Z" fill="url(#ar1)"/>
<linearGradient id="ar2" gradientUnits="userSpaceOnUse" x1="247.5" y1="287.5" x2="255.0" y2="309.7"><stop offset="0" stop-color="#ffe100"/><stop offset="0.45" stop-color="#f18a00"/><stop offset="0.78" stop-color="#e3231b"/><stop offset="1" stop-color="#d41d21"/></linearGradient><path d="M245.0,287.5 L245.0,288.0 L245.0,288.4 L245.0,288.9 L245.0,289.4 L245.1,289.8 L245.1,290.3 L245.1,290.7 L245.1,291.2 L245.1,291.6 L245.2,292.0 L245.2,292.5 L245.2,292.9 L245.3,293.3 L245.3,293.7 L245.4,294.1 L245.4,294.5 L245.5,294.9 L245.5,295.3 L245.6,295.7 L245.7,296.1 L245.7,296.5 L245.8,296.9 L245.9,297.3 L246.0,297.7 L246.1,298.1 L246.2,298.4 L246.3,298.8 L246.4,299.2 L246.5,299.6 L246.6,299.9 L246.7,300.3 L246.9,300.7 L247.0,301.1 L247.1,301.4 L247.3,301.8 L247.4,302.2 L247.6,302.5 L247.8,302.9 L248.0,303.3 L248.1,303.6 L248.3,304.0 L246.6,305.5 L255.0,309.7 L254.0,300.4 L252.3,301.9 L252.2,301.6 L252.1,301.3 L251.9,301.0 L251.8,300.7 L251.7,300.4 L251.5,300.1 L251.4,299.8 L251.3,299.5 L251.2,299.2 L251.1,298.9 L251.0,298.6 L250.9,298.3 L250.9,298.0 L250.8,297.7 L250.7,297.4 L250.6,297.0 L250.6,296.7 L250.5,296.4 L250.4,296.1 L250.4,295.7 L250.3,295.4 L250.3,295.1 L250.3,294.7 L250.2,294.4 L250.2,294.0 L250.1,293.7 L250.1,293.3 L250.1,292.9 L250.1,292.6 L250.0,292.2 L250.0,291.8 L250.0,291.4 L250.0,291.0 L250.0,290.6 L250.0,290.2 L250.0,289.7 L250.0,289.3 L250.0,288.9 L250.0,288.4 L250.0,288.0 L250.0,287.5 Z" fill="url(#ar2)"/>
<linearGradient id="ar3" gradientUnits="userSpaceOnUse" x1="408.5" y1="105.5" x2="402.5" y2="122.5"><stop offset="0" stop-color="#ffe100"/><stop offset="0.45" stop-color="#f18a00"/><stop offset="0.78" stop-color="#e3231b"/><stop offset="1" stop-color="#d41d21"/></linearGradient><path d="M407.9,103.6 L407.7,103.7 L407.4,103.7 L407.1,103.8 L406.8,103.9 L406.5,104.0 L406.2,104.1 L406.0,104.3 L405.7,104.4 L405.4,104.5 L405.2,104.7 L404.9,104.8 L404.7,105.0 L404.4,105.2 L404.2,105.4 L404.0,105.6 L403.7,105.8 L403.5,106.0 L403.3,106.2 L403.1,106.4 L402.9,106.7 L402.7,106.9 L402.5,107.2 L402.4,107.4 L402.2,107.7 L402.0,108.0 L401.9,108.3 L401.7,108.6 L401.6,108.8 L401.5,109.2 L401.3,109.5 L401.2,109.8 L401.1,110.1 L401.0,110.4 L400.9,110.8 L400.8,111.1 L400.7,111.5 L400.6,111.8 L400.5,112.2 L400.5,112.6 L400.4,112.9 L400.3,113.3 L400.2,113.7 L400.2,114.1 L400.1,114.5 L400.0,115.0 L400.0,115.4 L398.2,115.5 L402.5,122.5 L407.2,115.7 L405.4,115.8 L405.4,115.4 L405.4,115.1 L405.5,114.7 L405.5,114.4 L405.5,114.0 L405.5,113.7 L405.5,113.4 L405.6,113.1 L405.6,112.8 L405.6,112.5 L405.7,112.2 L405.7,112.0 L405.8,111.7 L405.8,111.5 L405.9,111.3 L405.9,111.0 L406.0,110.8 L406.0,110.6 L406.1,110.4 L406.1,110.3 L406.2,110.1 L406.3,109.9 L406.3,109.8 L406.4,109.6 L406.5,109.5 L406.5,109.4 L406.6,109.2 L406.7,109.1 L406.8,109.0 L406.9,108.9 L406.9,108.8 L407.0,108.7 L407.1,108.6 L407.2,108.5 L407.4,108.4 L407.5,108.3 L407.6,108.2 L407.7,108.1 L407.9,108.0 L408.0,107.9 L408.2,107.8 L408.3,107.7 L408.5,107.7 L408.7,107.6 L408.9,107.5 L409.1,107.4 Z" fill="url(#ar3)"/>
<linearGradient id="ar4" gradientUnits="userSpaceOnUse" x1="431.8" y1="122.0" x2="437.5" y2="105.5"><stop offset="0" stop-color="#ffe100"/><stop offset="0.45" stop-color="#f18a00"/><stop offset="0.78" stop-color="#e3231b"/><stop offset="1" stop-color="#d41d21"/></linearGradient><path d="M434.5,122.0 L434.5,121.7 L434.5,121.3 L434.5,121.0 L434.5,120.6 L434.5,120.3 L434.5,120.0 L434.5,119.7 L434.5,119.4 L434.5,119.0 L434.4,118.7 L434.4,118.4 L434.4,118.1 L434.4,117.8 L434.4,117.6 L434.5,117.3 L434.5,117.0 L434.5,116.7 L434.5,116.4 L434.5,116.2 L434.5,115.9 L434.5,115.6 L434.6,115.4 L434.6,115.1 L434.6,114.9 L434.6,114.6 L434.7,114.4 L434.7,114.1 L434.8,113.9 L434.8,113.6 L434.9,113.4 L434.9,113.2 L435.0,113.0 L435.0,112.7 L435.1,112.5 L435.2,112.3 L435.2,112.1 L435.3,111.9 L435.4,111.6 L436.7,113.4 L437.5,105.5 L430.0,108.1 L431.3,109.8 L431.1,110.1 L431.0,110.4 L430.9,110.7 L430.7,111.0 L430.6,111.3 L430.5,111.6 L430.4,111.9 L430.3,112.2 L430.2,112.5 L430.1,112.8 L430.0,113.1 L430.0,113.4 L429.9,113.8 L429.8,114.1 L429.8,114.4 L429.7,114.7 L429.6,115.0 L429.6,115.3 L429.5,115.6 L429.5,116.0 L429.5,116.3 L429.4,116.6 L429.4,116.9 L429.3,117.3 L429.3,117.6 L429.3,117.9 L429.3,118.2 L429.2,118.6 L429.2,118.9 L429.2,119.3 L429.2,119.6 L429.1,119.9 L429.1,120.3 L429.1,120.6 L429.1,121.0 L429.1,121.3 L429.1,121.7 L429.1,122.0 Z" fill="url(#ar4)"/>
<linearGradient id="ar5" gradientUnits="userSpaceOnUse" x1="499.0" y1="206.5" x2="525.4" y2="197.7"><stop offset="0" stop-color="#ffe100"/><stop offset="0.45" stop-color="#f18a00"/><stop offset="0.78" stop-color="#e3231b"/><stop offset="1" stop-color="#d41d21"/></linearGradient><path d="M498.9,209.0 L499.3,209.0 L499.8,209.0 L500.3,209.0 L500.7,209.0 L501.2,209.0 L501.6,209.0 L502.1,209.0 L502.6,209.0 L503.0,209.0 L503.5,209.0 L503.9,208.9 L504.4,208.9 L504.8,208.9 L505.3,208.8 L505.7,208.8 L506.2,208.7 L506.6,208.7 L507.0,208.6 L507.5,208.5 L507.9,208.4 L508.4,208.3 L508.8,208.2 L509.3,208.1 L509.7,208.0 L510.2,207.9 L510.6,207.8 L511.0,207.7 L511.5,207.6 L511.9,207.4 L512.4,207.3 L512.8,207.1 L513.3,207.0 L513.7,206.8 L514.2,206.6 L514.6,206.4 L515.1,206.2 L515.5,206.1 L516.0,205.8 L516.4,205.6 L516.9,205.4 L517.4,205.2 L517.8,205.0 L518.3,204.7 L518.7,204.5 L519.2,204.2 L519.7,204.0 L520.2,203.7 L521.2,205.1 L525.4,197.7 L516.9,198.4 L518.0,199.8 L517.5,200.0 L517.1,200.2 L516.7,200.4 L516.2,200.7 L515.8,200.9 L515.4,201.1 L515.0,201.3 L514.6,201.4 L514.1,201.6 L513.7,201.8 L513.3,201.9 L512.9,202.1 L512.5,202.3 L512.1,202.4 L511.7,202.5 L511.4,202.7 L511.0,202.8 L510.6,202.9 L510.2,203.0 L509.8,203.1 L509.4,203.2 L509.0,203.3 L508.7,203.4 L508.3,203.5 L507.9,203.6 L507.5,203.6 L507.1,203.7 L506.7,203.8 L506.4,203.8 L506.0,203.9 L505.6,203.9 L505.2,204.0 L504.8,204.0 L504.4,204.0 L504.0,204.0 L503.6,204.1 L503.3,204.1 L502.9,204.1 L502.5,204.1 L502.1,204.1 L501.7,204.1 L501.2,204.1 L500.8,204.1 L500.4,204.1 L500.0,204.1 L499.6,204.0 L499.1,204.0 Z" fill="url(#ar5)"/>
<linearGradient id="ar6" gradientUnits="userSpaceOnUse" x1="441.7" y1="293.0" x2="435.0" y2="277.3"><stop offset="0" stop-color="#ffe100"/><stop offset="0.45" stop-color="#f18a00"/><stop offset="0.78" stop-color="#e3231b"/><stop offset="1" stop-color="#d41d21"/></linearGradient><path d="M442.4,291.7 L442.2,291.5 L442.0,291.4 L441.8,291.3 L441.6,291.1 L441.4,291.0 L441.3,290.9 L441.1,290.7 L440.9,290.6 L440.8,290.4 L440.6,290.3 L440.5,290.1 L440.3,290.0 L440.2,289.8 L440.1,289.7 L439.9,289.5 L439.8,289.4 L439.7,289.2 L439.6,289.0 L439.4,288.8 L439.3,288.7 L439.2,288.5 L439.1,288.3 L439.0,288.1 L438.9,287.9 L438.8,287.7 L438.7,287.5 L438.6,287.3 L438.6,287.1 L438.5,286.9 L438.4,286.7 L438.3,286.4 L438.2,286.2 L438.2,286.0 L438.1,285.7 L438.1,285.5 L438.0,285.2 L437.9,285.0 L437.9,284.7 L437.8,284.5 L437.8,284.2 L437.8,283.9 L437.7,283.6 L437.7,283.3 L437.6,283.0 L438.9,283.2 L435.0,277.3 L431.9,283.7 L433.2,283.8 L433.3,284.1 L433.4,284.5 L433.5,284.8 L433.6,285.2 L433.7,285.5 L433.8,285.8 L433.9,286.2 L434.0,286.5 L434.1,286.8 L434.3,287.1 L434.4,287.4 L434.5,287.7 L434.6,288.0 L434.8,288.3 L434.9,288.6 L435.1,288.8 L435.2,289.1 L435.4,289.4 L435.5,289.6 L435.7,289.9 L435.9,290.1 L436.1,290.4 L436.2,290.6 L436.4,290.8 L436.6,291.1 L436.8,291.3 L437.0,291.5 L437.2,291.7 L437.4,291.9 L437.6,292.1 L437.8,292.3 L438.1,292.5 L438.3,292.7 L438.5,292.9 L438.7,293.0 L439.0,293.2 L439.2,293.4 L439.5,293.5 L439.7,293.7 L440.0,293.8 L440.2,293.9 L440.5,294.1 L440.7,294.2 L441.0,294.3 Z" fill="url(#ar6)"/>
<linearGradient id="ar7" gradientUnits="userSpaceOnUse" x1="738.5" y1="105.5" x2="730.8" y2="120.7"><stop offset="0" stop-color="#ffe100"/><stop offset="0.45" stop-color="#f18a00"/><stop offset="0.78" stop-color="#e3231b"/><stop offset="1" stop-color="#d41d21"/></linearGradient><path d="M738.0,103.6 L737.7,103.6 L737.4,103.7 L737.0,103.8 L736.7,103.9 L736.4,104.0 L736.1,104.1 L735.8,104.2 L735.5,104.3 L735.2,104.4 L734.9,104.5 L734.6,104.7 L734.3,104.8 L734.0,105.0 L733.7,105.1 L733.5,105.3 L733.2,105.5 L732.9,105.7 L732.7,105.9 L732.4,106.1 L732.2,106.3 L732.0,106.5 L731.7,106.8 L731.5,107.0 L731.3,107.3 L731.1,107.5 L730.9,107.8 L730.7,108.0 L730.5,108.3 L730.4,108.6 L730.2,108.9 L730.0,109.2 L729.9,109.5 L729.7,109.8 L729.6,110.1 L729.5,110.5 L729.3,110.8 L729.2,111.1 L729.1,111.5 L729.0,111.8 L728.9,112.2 L728.8,112.5 L728.7,112.9 L728.6,113.3 L728.5,113.6 L726.7,113.8 L730.8,120.7 L735.7,114.4 L733.9,114.5 L733.9,114.2 L734.0,114.0 L734.0,113.7 L734.1,113.4 L734.1,113.1 L734.1,112.9 L734.2,112.6 L734.2,112.4 L734.3,112.2 L734.4,111.9 L734.4,111.7 L734.5,111.5 L734.5,111.3 L734.6,111.1 L734.7,111.0 L734.8,110.8 L734.8,110.6 L734.9,110.5 L735.0,110.3 L735.1,110.2 L735.2,110.0 L735.3,109.9 L735.4,109.7 L735.5,109.6 L735.6,109.5 L735.7,109.3 L735.8,109.2 L735.9,109.1 L736.1,109.0 L736.2,108.9 L736.3,108.7 L736.5,108.6 L736.7,108.5 L736.8,108.4 L737.0,108.3 L737.2,108.2 L737.4,108.1 L737.6,108.0 L737.8,107.9 L738.0,107.8 L738.2,107.7 L738.5,107.6 L738.7,107.5 L739.0,107.4 Z" fill="url(#ar7)"/>
<linearGradient id="ar8" gradientUnits="userSpaceOnUse" x1="760.3" y1="122.0" x2="766.5" y2="105.5"><stop offset="0" stop-color="#ffe100"/><stop offset="0.45" stop-color="#f18a00"/><stop offset="0.78" stop-color="#e3231b"/><stop offset="1" stop-color="#d41d21"/></linearGradient><path d="M763.0,122.0 L763.0,121.7 L763.0,121.3 L763.0,121.0 L763.0,120.7 L763.0,120.3 L763.0,120.0 L763.0,119.7 L763.0,119.4 L763.0,119.1 L763.0,118.8 L763.0,118.5 L763.0,118.2 L763.0,117.9 L763.0,117.6 L763.0,117.3 L763.0,117.1 L763.1,116.8 L763.1,116.5 L763.1,116.2 L763.1,116.0 L763.2,115.7 L763.2,115.5 L763.2,115.2 L763.3,115.0 L763.3,114.7 L763.4,114.5 L763.4,114.2 L763.5,114.0 L763.5,113.7 L763.6,113.5 L763.7,113.3 L763.7,113.1 L763.8,112.8 L763.9,112.6 L764.0,112.4 L764.0,112.2 L764.1,111.9 L764.2,111.7 L764.3,111.5 L765.6,113.2 L766.5,105.5 L759.1,107.7 L760.3,109.4 L760.1,109.7 L760.0,110.0 L759.8,110.3 L759.7,110.6 L759.6,110.9 L759.4,111.2 L759.3,111.5 L759.2,111.8 L759.1,112.1 L759.0,112.4 L758.9,112.7 L758.8,113.0 L758.7,113.3 L758.6,113.7 L758.5,114.0 L758.4,114.3 L758.4,114.6 L758.3,114.9 L758.2,115.2 L758.2,115.6 L758.1,115.9 L758.1,116.2 L758.0,116.5 L758.0,116.9 L757.9,117.2 L757.9,117.5 L757.8,117.9 L757.8,118.2 L757.8,118.5 L757.7,118.9 L757.7,119.2 L757.7,119.5 L757.7,119.9 L757.6,120.2 L757.6,120.6 L757.6,120.9 L757.6,121.3 L757.6,121.6 L757.6,122.0 Z" fill="url(#ar8)"/>
<linearGradient id="ar9" gradientUnits="userSpaceOnUse" x1="826.0" y1="207.0" x2="855.6" y2="198.0"><stop offset="0" stop-color="#ffe100"/><stop offset="0.45" stop-color="#f18a00"/><stop offset="0.78" stop-color="#e3231b"/><stop offset="1" stop-color="#d41d21"/></linearGradient><path d="M825.9,209.5 L826.4,209.5 L826.9,209.5 L827.4,209.5 L828.0,209.5 L828.5,209.5 L829.0,209.5 L829.5,209.5 L830.0,209.5 L830.5,209.5 L831.1,209.4 L831.6,209.4 L832.1,209.4 L832.6,209.3 L833.1,209.3 L833.6,209.2 L834.1,209.1 L834.6,209.1 L835.1,209.0 L835.7,208.9 L836.2,208.8 L836.7,208.7 L837.2,208.6 L837.7,208.5 L838.2,208.4 L838.7,208.3 L839.2,208.1 L839.7,208.0 L840.2,207.9 L840.7,207.7 L841.2,207.6 L841.7,207.4 L842.2,207.2 L842.8,207.1 L843.3,206.9 L843.8,206.7 L844.3,206.5 L844.8,206.3 L845.3,206.1 L845.8,205.9 L846.3,205.7 L846.8,205.4 L847.3,205.2 L847.9,205.0 L848.4,204.7 L848.9,204.5 L849.4,204.2 L849.9,203.9 L850.4,203.7 L851.5,205.1 L855.6,198.0 L847.4,198.2 L848.4,199.7 L847.9,199.9 L847.4,200.2 L846.9,200.4 L846.4,200.6 L846.0,200.8 L845.5,201.0 L845.0,201.2 L844.6,201.4 L844.1,201.6 L843.6,201.8 L843.1,202.0 L842.7,202.2 L842.2,202.3 L841.8,202.5 L841.3,202.6 L840.8,202.8 L840.4,202.9 L839.9,203.1 L839.5,203.2 L839.0,203.3 L838.5,203.4 L838.1,203.5 L837.6,203.6 L837.2,203.7 L836.7,203.8 L836.3,203.9 L835.8,204.0 L835.4,204.1 L834.9,204.1 L834.5,204.2 L834.0,204.3 L833.5,204.3 L833.1,204.4 L832.6,204.4 L832.2,204.5 L831.7,204.5 L831.3,204.5 L830.8,204.5 L830.3,204.6 L829.9,204.6 L829.4,204.6 L829.0,204.6 L828.5,204.6 L828.0,204.6 L827.6,204.6 L827.1,204.6 L826.6,204.5 L826.1,204.5 Z" fill="url(#ar9)"/>
<linearGradient id="ar10" gradientUnits="userSpaceOnUse" x1="771.0" y1="291.0" x2="764.2" y2="277.3"><stop offset="0" stop-color="#ffe100"/><stop offset="0.45" stop-color="#f18a00"/><stop offset="0.78" stop-color="#e3231b"/><stop offset="1" stop-color="#d41d21"/></linearGradient><path d="M771.8,289.7 L771.5,289.6 L771.3,289.4 L771.1,289.2 L770.9,289.1 L770.7,288.9 L770.5,288.8 L770.4,288.6 L770.2,288.4 L770.0,288.3 L769.9,288.1 L769.7,287.9 L769.5,287.8 L769.4,287.6 L769.2,287.4 L769.1,287.3 L769.0,287.1 L768.8,286.9 L768.7,286.8 L768.6,286.6 L768.5,286.4 L768.4,286.2 L768.3,286.1 L768.2,285.9 L768.1,285.7 L768.0,285.5 L767.9,285.4 L767.8,285.2 L767.7,285.0 L767.7,284.8 L767.6,284.6 L767.5,284.4 L767.4,284.2 L767.4,284.0 L767.3,283.8 L767.3,283.6 L767.2,283.4 L767.2,283.2 L767.1,283.0 L767.1,282.8 L768.4,283.0 L764.2,277.3 L761.4,283.8 L762.8,284.0 L762.9,284.3 L763.0,284.6 L763.1,284.9 L763.2,285.2 L763.3,285.4 L763.5,285.7 L763.6,286.0 L763.7,286.2 L763.9,286.5 L764.0,286.7 L764.2,287.0 L764.3,287.2 L764.5,287.4 L764.6,287.7 L764.8,287.9 L765.0,288.1 L765.2,288.4 L765.4,288.6 L765.5,288.8 L765.7,289.0 L765.9,289.2 L766.1,289.4 L766.3,289.6 L766.5,289.8 L766.8,290.0 L767.0,290.2 L767.2,290.4 L767.4,290.5 L767.7,290.7 L767.9,290.9 L768.1,291.1 L768.4,291.2 L768.6,291.4 L768.9,291.5 L769.2,291.7 L769.4,291.9 L769.7,292.0 L770.0,292.1 L770.2,292.3 Z" fill="url(#ar10)"/>
<linearGradient id="ar11" gradientUnits="userSpaceOnUse" x1="367.0" y1="378.0" x2="394.5" y2="367.0"><stop offset="0" stop-color="#ffe100"/><stop offset="0.45" stop-color="#f18a00"/><stop offset="0.78" stop-color="#e3231b"/><stop offset="1" stop-color="#d41d21"/></linearGradient><path d="M367.0,379.7 L367.5,379.8 L368.0,379.8 L368.5,379.7 L369.0,379.7 L369.5,379.7 L370.0,379.7 L370.5,379.7 L371.0,379.6 L371.5,379.6 L372.0,379.5 L372.5,379.5 L373.0,379.4 L373.5,379.4 L374.0,379.3 L374.5,379.2 L375.0,379.1 L375.5,379.0 L375.9,378.9 L376.4,378.8 L376.9,378.7 L377.4,378.6 L377.8,378.5 L378.3,378.4 L378.8,378.2 L379.3,378.1 L379.7,377.9 L380.2,377.8 L380.7,377.6 L381.2,377.5 L381.6,377.3 L382.1,377.1 L382.6,376.9 L383.0,376.7 L383.5,376.5 L384.0,376.3 L384.4,376.1 L384.9,375.8 L385.4,375.6 L385.8,375.4 L386.3,375.1 L386.8,374.9 L387.2,374.6 L387.7,374.3 L388.2,374.1 L388.6,373.8 L389.1,373.5 L389.6,373.2 L390.8,374.5 L394.5,367.0 L386.2,368.5 L387.4,369.8 L387.0,370.1 L386.6,370.4 L386.1,370.7 L385.7,370.9 L385.3,371.2 L384.9,371.4 L384.4,371.7 L384.0,371.9 L383.6,372.2 L383.2,372.4 L382.8,372.6 L382.3,372.8 L381.9,373.0 L381.5,373.2 L381.1,373.4 L380.7,373.6 L380.3,373.7 L379.8,373.9 L379.4,374.1 L379.0,374.2 L378.6,374.4 L378.2,374.5 L377.7,374.6 L377.3,374.8 L376.9,374.9 L376.5,375.0 L376.0,375.1 L375.6,375.2 L375.2,375.3 L374.7,375.4 L374.3,375.5 L373.9,375.6 L373.4,375.7 L373.0,375.8 L372.6,375.8 L372.1,375.9 L371.7,375.9 L371.2,376.0 L370.8,376.0 L370.3,376.1 L369.8,376.1 L369.4,376.2 L368.9,376.2 L368.4,376.2 L368.0,376.2 L367.5,376.2 L367.0,376.3 Z" fill="url(#ar11)"/>
<linearGradient id="ar12" gradientUnits="userSpaceOnUse" x1="394.5" y1="457.0" x2="366.0" y2="449.7"><stop offset="0" stop-color="#ffe100"/><stop offset="0.45" stop-color="#f18a00"/><stop offset="0.78" stop-color="#e3231b"/><stop offset="1" stop-color="#d41d21"/></linearGradient><path d="M395.6,455.6 L395.2,455.3 L394.8,455.0 L394.4,454.7 L394.0,454.4 L393.6,454.1 L393.2,453.8 L392.8,453.6 L392.4,453.3 L392.0,453.0 L391.5,452.8 L391.1,452.5 L390.7,452.3 L390.3,452.0 L389.8,451.8 L389.4,451.6 L388.9,451.4 L388.5,451.2 L388.1,451.0 L387.6,450.8 L387.1,450.6 L386.7,450.4 L386.2,450.2 L385.8,450.0 L385.3,449.9 L384.8,449.7 L384.3,449.5 L383.9,449.4 L383.4,449.3 L382.9,449.1 L382.4,449.0 L381.9,448.9 L381.4,448.7 L380.9,448.6 L380.4,448.5 L379.9,448.4 L379.4,448.3 L378.9,448.2 L378.4,448.2 L377.8,448.1 L377.3,448.0 L376.8,447.9 L376.2,447.9 L375.7,447.8 L375.2,447.8 L374.6,447.7 L374.5,445.7 L366.0,449.7 L374.5,453.7 L374.3,451.7 L374.8,451.7 L375.3,451.8 L375.8,451.8 L376.3,451.8 L376.8,451.9 L377.3,452.0 L377.8,452.0 L378.2,452.1 L378.7,452.2 L379.2,452.2 L379.7,452.3 L380.1,452.4 L380.6,452.5 L381.0,452.6 L381.5,452.7 L381.9,452.8 L382.3,452.9 L382.8,453.0 L383.2,453.1 L383.6,453.3 L384.1,453.4 L384.5,453.6 L384.9,453.7 L385.3,453.8 L385.7,454.0 L386.1,454.2 L386.6,454.3 L387.0,454.5 L387.4,454.7 L387.8,454.9 L388.1,455.1 L388.5,455.3 L388.9,455.5 L389.3,455.7 L389.7,455.9 L390.1,456.1 L390.5,456.3 L390.8,456.6 L391.2,456.8 L391.6,457.0 L391.9,457.3 L392.3,457.5 L392.7,457.8 L393.0,458.1 L393.4,458.4 Z" fill="url(#ar12)"/>
<linearGradient id="ar13" gradientUnits="userSpaceOnUse" x1="627.5" y1="506.5" x2="627.5" y2="535.4"><stop offset="0" stop-color="#ffe100"/><stop offset="0.45" stop-color="#f18a00"/><stop offset="0.78" stop-color="#e3231b"/><stop offset="1" stop-color="#d41d21"/></linearGradient><path d="M625.0,506.5 L625.0,506.9 L625.0,507.3 L625.1,507.8 L625.1,508.2 L625.1,508.6 L625.1,509.0 L625.1,509.4 L625.2,509.7 L625.2,510.1 L625.2,510.5 L625.2,510.9 L625.2,511.3 L625.3,511.7 L625.3,512.1 L625.3,512.4 L625.3,512.8 L625.3,513.2 L625.4,513.6 L625.4,514.0 L625.4,514.3 L625.4,514.7 L625.4,515.1 L625.5,515.5 L625.5,515.9 L625.5,516.3 L625.5,516.7 L625.5,517.1 L625.6,517.5 L625.6,517.9 L625.6,518.4 L625.6,518.8 L625.7,519.2 L625.7,519.7 L625.7,520.1 L625.7,520.6 L625.7,521.0 L625.8,521.5 L625.8,522.0 L625.8,522.5 L625.8,523.0 L625.9,523.5 L625.9,524.0 L625.9,524.5 L626.0,525.0 L626.0,525.6 L623.8,525.6 L627.5,535.4 L631.2,525.6 L629.0,525.6 L629.0,525.0 L629.1,524.5 L629.1,524.0 L629.1,523.5 L629.2,523.0 L629.2,522.5 L629.2,522.0 L629.2,521.5 L629.3,521.0 L629.3,520.6 L629.3,520.1 L629.3,519.7 L629.3,519.2 L629.4,518.8 L629.4,518.4 L629.4,517.9 L629.4,517.5 L629.5,517.1 L629.5,516.7 L629.5,516.3 L629.5,515.9 L629.5,515.5 L629.6,515.1 L629.6,514.7 L629.6,514.3 L629.6,514.0 L629.6,513.6 L629.7,513.2 L629.7,512.8 L629.7,512.4 L629.7,512.1 L629.7,511.7 L629.8,511.3 L629.8,510.9 L629.8,510.5 L629.8,510.1 L629.8,509.7 L629.9,509.4 L629.9,509.0 L629.9,508.6 L629.9,508.2 L629.9,507.8 L630.0,507.3 L630.0,506.9 L630.0,506.5 Z" fill="url(#ar13)"/>
<linearGradient id="ar14" gradientUnits="userSpaceOnUse" x1="710.0" y1="537.5" x2="710.0" y2="507.5"><stop offset="0" stop-color="#ffe100"/><stop offset="0.45" stop-color="#f18a00"/><stop offset="0.78" stop-color="#e3231b"/><stop offset="1" stop-color="#d41d21"/></linearGradient><path d="M712.5,537.5 L712.5,537.1 L712.5,536.8 L712.4,536.4 L712.4,536.0 L712.4,535.7 L712.4,535.3 L712.4,535.0 L712.4,534.6 L712.3,534.2 L712.3,533.9 L712.3,533.5 L712.3,533.2 L712.3,532.8 L712.3,532.5 L712.2,532.1 L712.2,531.7 L712.2,531.4 L712.2,531.0 L712.2,530.7 L712.1,530.3 L712.1,529.9 L712.1,529.5 L712.1,529.1 L712.1,528.7 L712.1,528.3 L712.0,527.9 L712.0,527.5 L712.0,527.1 L712.0,526.7 L712.0,526.3 L711.9,525.8 L711.9,525.4 L711.9,524.9 L711.9,524.4 L711.8,523.9 L711.8,523.5 L711.8,523.0 L711.8,522.4 L711.7,521.9 L711.7,521.4 L711.7,520.8 L711.7,520.3 L711.6,519.7 L711.6,519.1 L711.6,518.5 L711.5,517.9 L711.5,517.3 L713.8,517.3 L710.0,507.5 L706.2,517.3 L708.5,517.3 L708.5,517.9 L708.4,518.5 L708.4,519.1 L708.4,519.7 L708.3,520.3 L708.3,520.8 L708.3,521.4 L708.3,521.9 L708.2,522.4 L708.2,523.0 L708.2,523.5 L708.2,523.9 L708.1,524.4 L708.1,524.9 L708.1,525.4 L708.1,525.8 L708.0,526.2 L708.0,526.7 L708.0,527.1 L708.0,527.5 L708.0,527.9 L707.9,528.3 L707.9,528.7 L707.9,529.1 L707.9,529.5 L707.9,529.9 L707.9,530.3 L707.8,530.7 L707.8,531.0 L707.8,531.4 L707.8,531.7 L707.8,532.1 L707.7,532.5 L707.7,532.8 L707.7,533.2 L707.7,533.5 L707.7,533.9 L707.7,534.2 L707.6,534.6 L707.6,535.0 L707.6,535.3 L707.6,535.7 L707.6,536.0 L707.6,536.4 L707.5,536.8 L707.5,537.1 L707.5,537.5 Z" fill="url(#ar14)"/>
<text class="cap" x="320.5" y="326">可变流量叶片泵</text><text class="caps" x="455" y="326.5">( 高转速时 )</text>
<text class="cap" x="630.5" y="326">可变流量叶片泵</text><text class="caps" x="765" y="326.5">( 低转速时 )</text>
<text class="cap" x="136.5" y="326" style="letter-spacing:4.5px">叶片泵</text>
<text class="cap2" x="193" y="547.8" style="letter-spacing:3.1px">内啮合齿轮泵</text>
<text class="cap2" x="495.5" y="548" style="letter-spacing:3.6px">摆线转子泵</text>
</svg>
</body></html>
